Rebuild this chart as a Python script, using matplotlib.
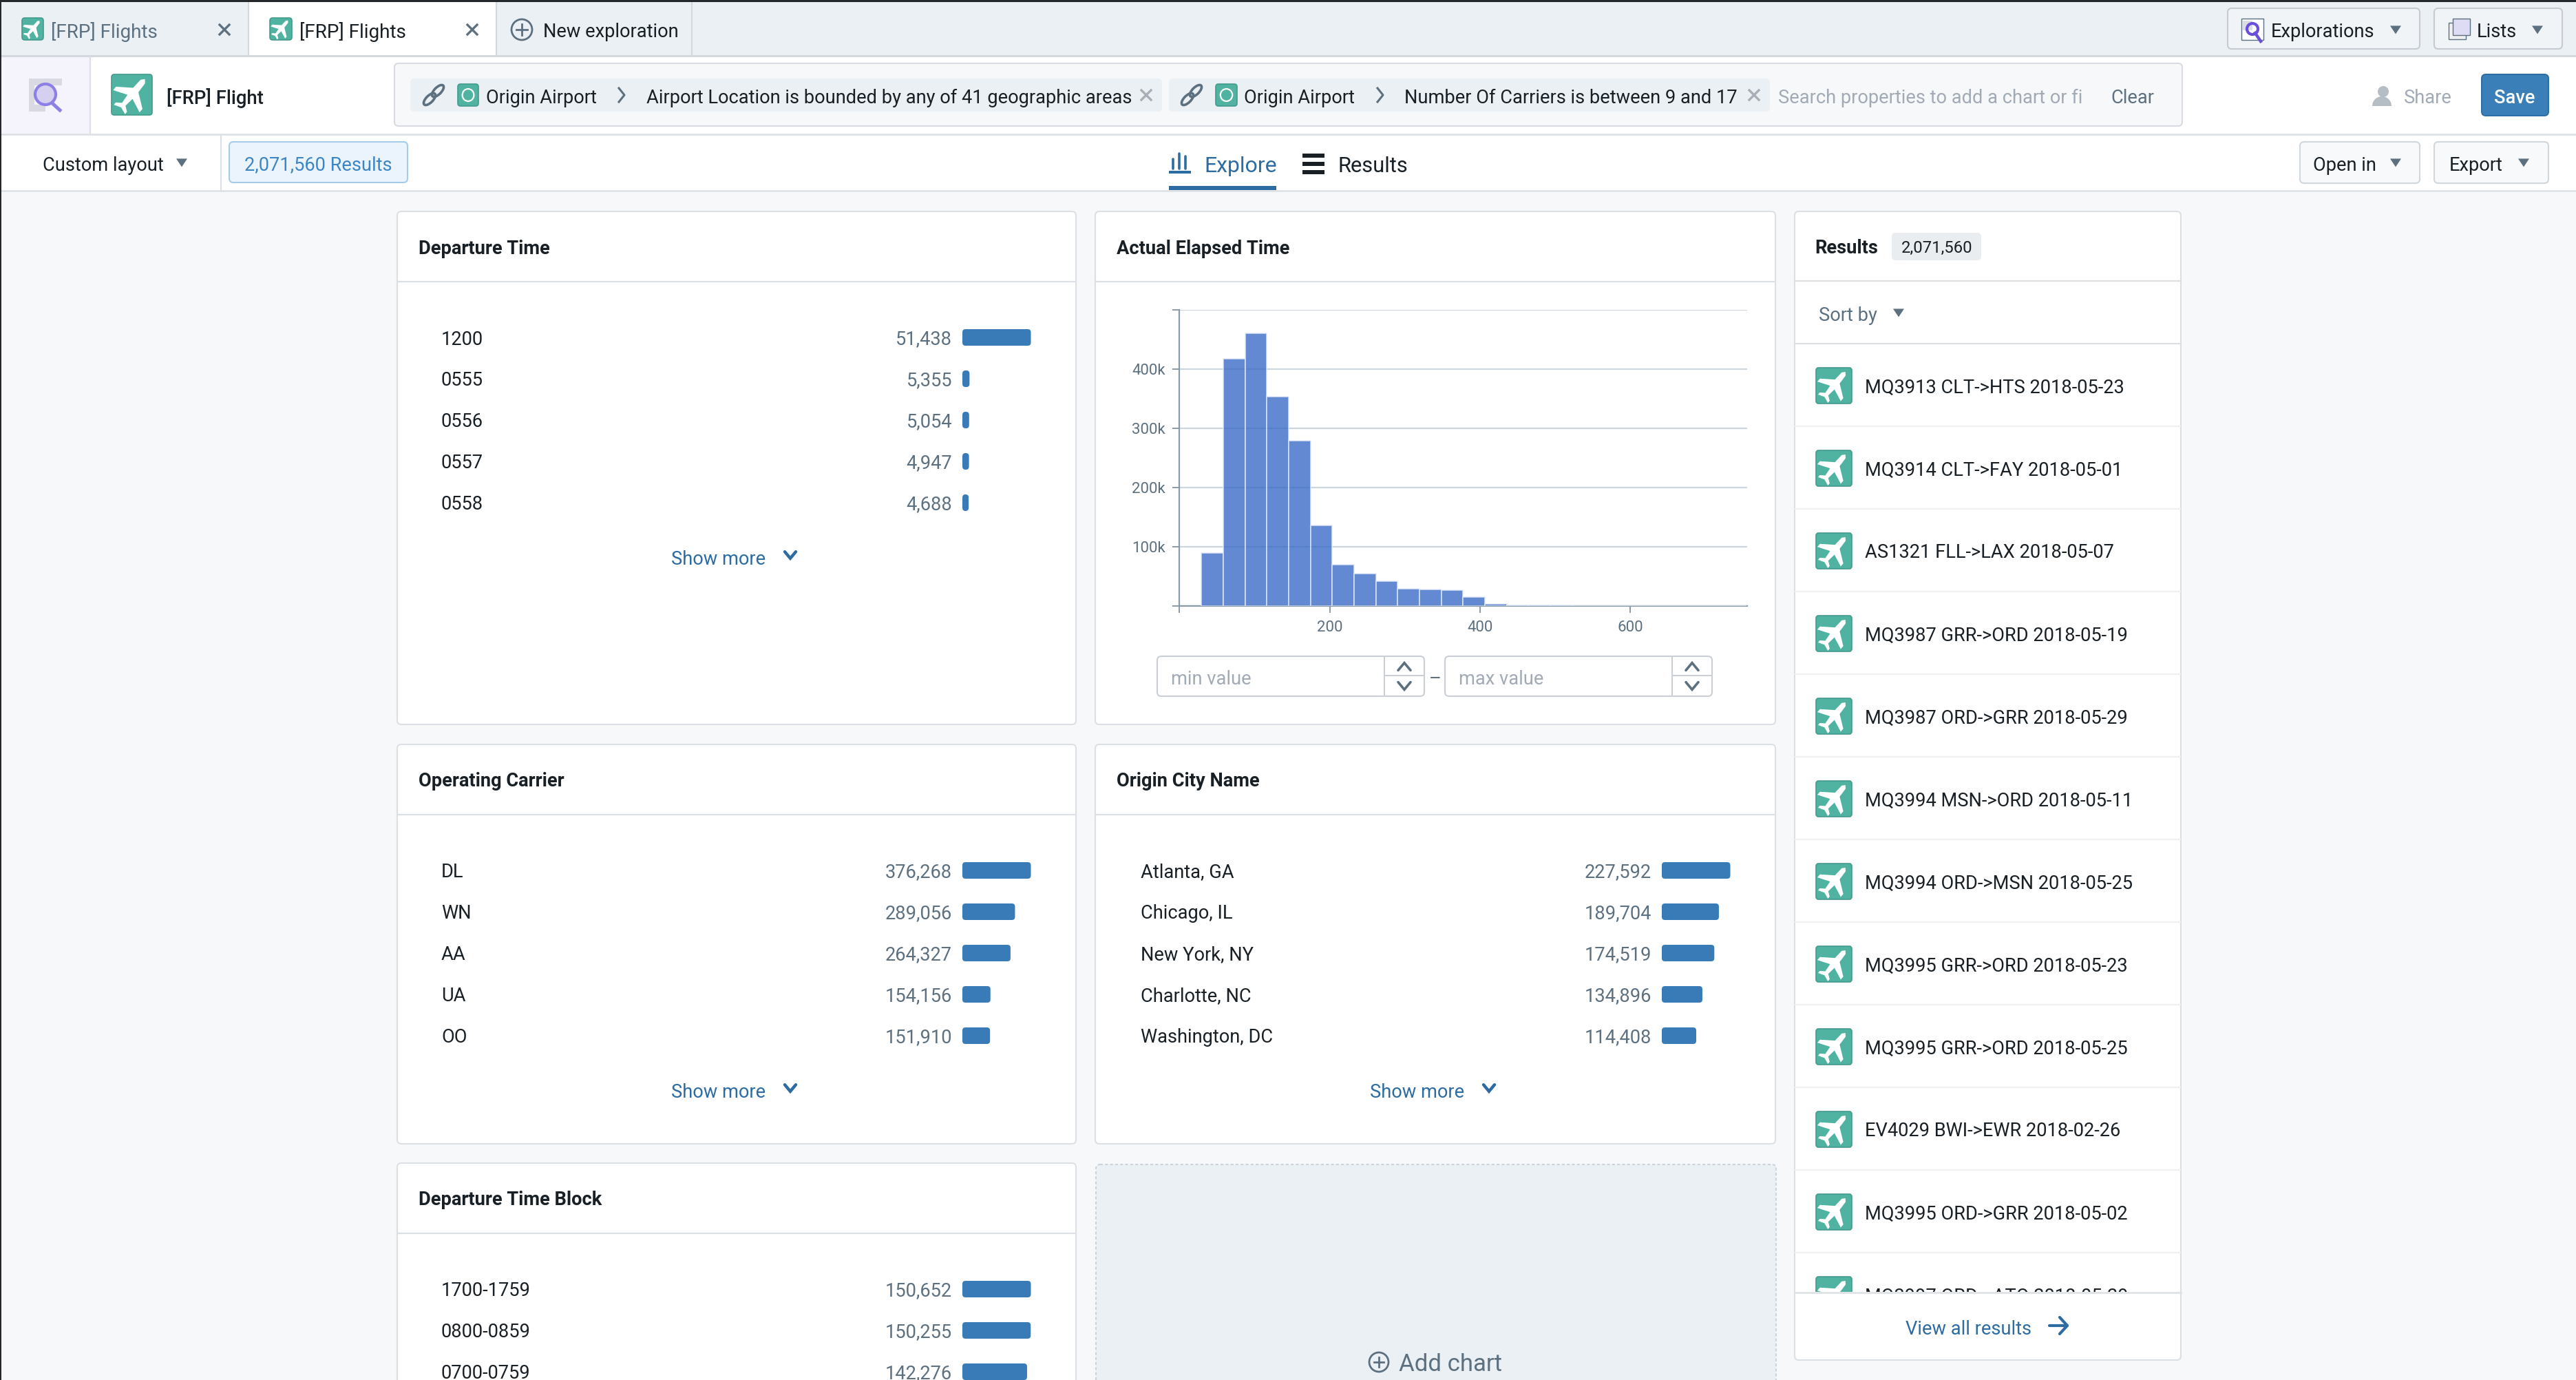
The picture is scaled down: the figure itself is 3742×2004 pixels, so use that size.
import numpy as np
import matplotlib
matplotlib.use("Agg")
import matplotlib.pyplot as plt
from matplotlib.patches import FancyBboxPatch, Rectangle, Circle, Polygon, Ellipse, Wedge
from matplotlib.ticker import FixedLocator, FixedFormatter

W, H = 3742, 2004

# panel data
departure_labels = ["1200", "0555", "0556", "0557", "0558"]
departure_values = [51438, 5355, 5054, 4947, 4688]
carrier_labels = ["DL", "WN", "AA", "UA", "OO"]
carrier_values = [376268, 289056, 264327, 154156, 151910]
city_labels = ["Atlanta, GA", "Chicago, IL", "New York, NY", "Charlotte, NC", "Washington, DC"]
city_values = [227592, 189704, 174519, 134896, 114408]
block_labels = ["1700-1759", "0800-0859", "0700-0759"]
block_values = [150652, 150255, 142276]

# histogram of elapsed time
hist_start = 29.4
hist_bin = 29.0
hist_counts = [89000, 418000, 460000, 353000, 279000, 136000, 70000, 54500, 42000,
               29000, 27500, 27000, 15000, 4000, 1200, 800, 600, 500, 400, 300,
               300, 200, 200, 200, 100]
hist_yticks = [0, 100000, 200000, 300000, 400000, 500000]
hist_ylabels = ["", "100k", "200k", "300k", "400k", ""]
hist_xticks = [0, 200, 400, 600]
hist_xlabels = ["", "200", "400", "600"]

results = ["MQ3913 CLT->HTS 2018-05-23", "MQ3914 CLT->FAY 2018-05-01",
           "AS1321 FLL->LAX 2018-05-07", "MQ3987 GRR->ORD 2018-05-19",
           "MQ3987 ORD->GRR 2018-05-29", "MQ3994 MSN->ORD 2018-05-11",
           "MQ3994 ORD->MSN 2018-05-25", "MQ3995 GRR->ORD 2018-05-23",
           "MQ3995 GRR->ORD 2018-05-25", "EV4029 BWI->EWR 2018-02-26",
           "MQ3995 ORD->GRR 2018-05-02", "MQ3997 ORD->ATO 2018-05-29"]

DARK = "#182026"
GREY = "#5C7080"
LIGHT = "#A2ABB5"
BLUE = "#2D6CA2"
BAR = "#397BB7"
TEAL = "#50B3A2"
LINE = "#DCE0E4"
BG = "#F6F8FA"
TABBG = "#EBF0F4"
FONT = "Roboto"
FS = 19.6

plt.rcParams["font.family"] = [FONT, "DejaVu Sans"]

fig = plt.figure(figsize=(W / 100, H / 100), dpi=100, facecolor=BG)
ui = fig.add_axes([0, 0, 1, 1])
ui.set_xlim(0, W)
ui.set_ylim(H, 0)
ui.axis("off")


def T(x, y, s, size=FS, color=DARK, ha="left", weight="normal"):
    return ui.text(x, y, s, fontsize=size, color=color, ha=ha, va="center_baseline",
                   weight=weight, family=[FONT, "DejaVu Sans"])


def rect(x0, y0, x1, y1, fc, ec="none", lw=0, zorder=1):
    r = Rectangle((x0, y0), x1 - x0, y1 - y0, fc=fc, ec=ec, lw=lw, zorder=zorder)
    ui.add_patch(r)
    return r


def box(x0, y0, x1, y1, fc="white", ec=LINE, lw=1.5, rad=6, zorder=1, ls="-"):
    b = FancyBboxPatch((x0, y0), x1 - x0, y1 - y0, boxstyle=f"round,pad=0,rounding_size={rad}",
                       fc=fc, ec=ec, lw=lw, zorder=zorder, ls=ls)
    ui.add_patch(b)
    return b


def caret(x, y, color=GREY, s=8):
    ui.add_patch(Polygon([(x - s, y - s * 0.7), (x + s, y - s * 0.7), (x, y + s * 0.8)], fc=color, ec="none", zorder=3))


def chev(x, y, s=8, color=BLUE, lw=3.2, up=False):
    d = -1 if up else 1
    ui.plot([x - s, x, x + s], [y - d * s * 0.6, y + d * s * 0.6, y - d * s * 0.6], color=color, lw=lw,
            solid_capstyle="round", solid_joinstyle="miter", zorder=3)


def xmark(x, y, s=7, color=GREY, lw=2.4):
    ui.plot([x - s, x + s], [y - s, y + s], color=color, lw=lw, zorder=3)
    ui.plot([x - s, x + s], [y + s, y - s], color=color, lw=lw, zorder=3)


def plane_icon(x0, y0, x1, y1, clip=None):
    b = box(x0, y0, x1, y1, fc=TEAL, ec="#429B8C", lw=1.2, rad=4, zorder=2)
    cx, cy = (x0 + x1) / 2, (y0 + y1) / 2
    s = min(x1 - x0, y1 - y0) * 0.5
    # plane pointing up, then turned 40 degrees
    shape = np.array([(0, -1), (0.14, -0.85), (0.17, -0.3), (0.85, 0.2), (0.85, 0.42), (0.16, 0.14),
                      (0.11, 0.62), (0.36, 0.8), (0.36, 0.95), (0, 0.82), (-0.36, 0.95), (-0.36, 0.8),
                      (-0.11, 0.62), (-0.16, 0.14), (-0.85, 0.42), (-0.85, 0.2), (-0.17, -0.3), (-0.14, -0.85)])
    a = np.radians(40)
    xs = cx + s * (shape[:, 0] * np.cos(a) - shape[:, 1] * np.sin(a))
    ys = cy + s * (shape[:, 0] * np.sin(a) + shape[:, 1] * np.cos(a))
    p = Polygon(np.column_stack([xs, ys]), fc="white", ec="none", zorder=3)
    ui.add_patch(p)
    if clip is not None:
        b.set_clip_path(clip)
        p.set_clip_path(clip)


def ring_icon(x0, y0, x1, y1):
    box(x0, y0, x1, y1, fc=TEAL, ec="#429B8C", lw=1.2, rad=4, zorder=3)
    ui.add_patch(Ellipse(((x0 + x1) / 2, (y0 + y1) / 2), (x1 - x0) * 0.56, (y1 - y0) * 0.56, fc="none", ec="white", lw=1.6, zorder=4))


def link_icon(x, y):
    for dx in (-6, 6):
        ui.add_patch(Ellipse((x + dx, y - dx), 22, 10, angle=-45, fc="none", ec=GREY, lw=2.6, zorder=3))


def bar_list(px, py, labels, values, label_x):
    # px, py: left of the panel and centre of the first row
    n = len(labels)
    bar_x = px + 821
    bar_w = 99.5
    ax = fig.add_axes([bar_x / W, 1 - (py + 30 + 60 * (n - 1)) / H, bar_w / W, 60 * n / H])
    ax.set_xlim(0, max(values))
    ax.set_ylim(n - 0.5, -0.5)
    ax.axis("off")
    xu = max(values) / bar_w
    for i, v in enumerate(values):
        ax.add_patch(FancyBboxPatch((0, i - 0.2), v, 0.4, boxstyle=f"round,pad=0,rounding_size={4.5 * xu}",
                                    fc=BAR, ec="none", mutation_aspect=1 / (60 * xu), clip_on=False))
        T(label_x, py + 60 * i, labels[i])
        T(px + 806, py + 60 * i, f"{v:,}", color=GREY, ha="right")


def panel(x0, y0, x1, y1, line_y, title):
    box(x0, y0, x1, y1)
    ui.plot([x0, x1], [line_y, line_y], color=LINE, lw=1.6, zorder=2)
    T(x0 + 31, (y0 + line_y) / 2, title, weight="bold", size=FS)


def show_more(x, y):
    T(x, y, "Show more", color=BLUE)
    chev(x + 173, y - 3)


# window chrome
rect(0, 0, W, 82, TABBG)
rect(0, 82, W, 277, "white")
rect(0, 0, W, 2.5, "#23282D", zorder=6)
rect(0, 0, 2, H, "#23282D", zorder=6)
ui.plot([0, W], [81, 81], color="#D3D8DC", lw=2.2, zorder=2)
ui.plot([0, W], [195, 195], color=LINE, lw=1.8, zorder=2)
ui.plot([0, W], [277, 277], color=LINE, lw=1.8, zorder=2)

# tabs
rect(361, 2, 721, 82, "white")
for tx in (361, 721, 1005):
    ui.plot([tx, tx], [2, 81], color="#D3D8DC", lw=1.5, zorder=2)
plane_icon(32, 26, 63, 58)
plane_icon(392, 26, 424, 58)
T(74, 43, "[FRP] Flights", color=GREY, size=20.1)
T(435, 43, "[FRP] Flights", size=20.1)
xmark(326, 43, color=GREY)
xmark(686, 43, color=GREY)
ui.add_patch(Circle((758, 43), 15, fc="none", ec=GREY, lw=2, zorder=3))
ui.plot([750, 766], [43, 43], color=GREY, lw=2)
ui.plot([758, 758], [35, 51], color=GREY, lw=2)
T(789, 43, "New exploration")

box(3236, 12, 3515, 71, fc="#F1F4F7", ec="#C5CBD1")
rect(3256, 27, 3288, 58, "white", ec=GREY, lw=1, zorder=3)
rect(3258, 30, 3272, 44, "#DADDE3", zorder=3)
ui.add_patch(Circle((3272, 42), 8, fc="none", ec="#6A50D8", lw=3, zorder=4))
ui.plot([3276, 3284], [48, 60], color="#6A50D8", lw=3.2, zorder=4)
T(3299, 43, "Explorations")
caret(3480, 43)
box(3536, 12, 3722, 71, fc="#F1F4F7", ec="#C5CBD1")
rect(3557, 33, 3582, 57, "#F0F0F0", ec=GREY, lw=1, zorder=3)
rect(3563, 27, 3588, 51, "#DEDCF5", ec=GREY, lw=1, zorder=4)
T(3598, 43, "Lists")
caret(3686, 43)

# second row
rect(0, 82, 131, 195, "#F5F3FC")
ui.plot([131, 131], [82, 195], color=LINE, lw=1.5)
for sx0, sy0, sx1, sy1 in [(42, 114, 90, 124), (42, 124, 50, 162), (50, 152, 66, 162)]:
    rect(sx0, sy0, sx1, sy1, "#D9D9E3", zorder=2)
ui.add_patch(Ellipse((66, 137), 30, 30, fc="#D5D0F0", ec="#8C80E6", lw=3, zorder=3))
ui.plot([76, 87], [150, 160], color="#8C80E6", lw=3.6, zorder=3)
plane_icon(162, 108, 221, 167)
T(242, 139, "[FRP] Flight", weight="medium", size=19.8)

box(573, 92, 3170, 183, fc=BG, ec="#D8DBDF")
box(596, 114, 1688, 162, fc=TABBG, ec="none", lw=0, zorder=2)
box(1698, 114, 2571, 162, fc=TABBG, ec="none", lw=0, zorder=2)
link_icon(630, 138)
ring_icon(665, 122, 695, 154)
T(706, 139, "Origin Airport")
ui.plot([899, 907, 899], [128, 138, 148], color=GREY, lw=2.2, zorder=3)
T(939, 139, "Airport Location is bounded by any of 41 geographic areas")
xmark(1665, 138, s=7, color="#A8AEB5")
link_icon(1731, 138)
ring_icon(1766, 122, 1797, 154)
T(1807, 139, "Origin Airport")
ui.plot([2001, 2009, 2001], [128, 138, 148], color=GREY, lw=2.2, zorder=3)
T(2040, 139, "Number Of Carriers is between 9 and 17")
xmark(2548, 138, s=7, color="#A8AEB5")
T(2583, 139, "Search properties to add a chart or fi", color=LIGHT)
T(3066, 139, "Clear", color=GREY)

ui.add_patch(Circle((3462, 133), 8, fc="#B5BDC5", ec="none"))
ui.add_patch(Wedge((3460, 154), 14, 180, 360, fc="#B5BDC5", ec="none"))
T(3492, 139, "Share", color=LIGHT)
box(3605, 108, 3702, 168, fc="#3B7FB8", ec="#2D6CA2", lw=1.4)
T(3653, 139, "Save", color="white", ha="center", weight="medium")

# third row
T(62, 237, "Custom layout")
caret(264, 236)
ui.plot([321, 321], [196, 277], color=LINE, lw=1.5)
box(333, 206, 592, 265, fc="#EBF4FC", ec="#A6CBE9")
T(355, 237, "2,071,560 Results", color="#3D86C6")

for bx, bh in ((1704, 14), (1713, 22), (1722, 18)):
    ui.plot([bx, bx], [245 - bh, 245], color=BLUE, lw=2.6, solid_capstyle="round", zorder=3)
rect(1698, 248, 1730, 252, BLUE, zorder=3)
T(1749, 238, "Explore", size=23, color=BLUE)
rect(1698, 270, 1854, 276, BLUE, zorder=3)
for hy in (226, 238, 250):
    rect(1892, hy - 3, 1924, hy + 3, DARK, zorder=3)
T(1944, 238, "Results", size=22.2)
box(3341, 206, 3515, 266, fc="#F7F9FA", ec="#D2D7DC")
T(3360, 237, "Open in")
caret(3480, 236)
box(3536, 206, 3702, 266, fc="#F7F9FA", ec="#D2D7DC")
T(3558, 237, "Export")
caret(3666, 236)

# chart panels
panel(577, 307, 1563, 1052, 409, "Departure Time")
bar_list(577, 490, departure_labels, departure_values, 641)
show_more(975, 809)

panel(1591, 307, 2579, 1052, 409, "Actual Elapsed Time")

panel(577, 1081, 1563, 1661, 1183, "Operating Carrier")
bar_list(577, 1264, carrier_labels, carrier_values, 641)
show_more(975, 1583)

panel(1591, 1081, 2579, 1661, 1183, "Origin City Name")
bar_list(1593, 1264, city_labels, city_values, 1657)
show_more(1990, 1583)

panel(577, 1689, 1563, 2040, 1791, "Departure Time Block")
bar_list(577, 1872, block_labels, block_values, 641)

box(1592, 1691, 2580, 2040, fc=TABBG, ec="#CBD3DB", ls=(0, (2, 1.5)))
ui.add_patch(Circle((2003, 1978), 14, fc="none", ec=GREY, lw=2, zorder=3))
ui.plot([1996, 2010], [1978, 1978], color=GREY, lw=2, zorder=3)
ui.plot([2003, 2003], [1971, 1985], color=GREY, lw=2, zorder=3)
T(2032, 1978, "Add chart", color=GREY, size=25)

# histogram
hx0, hx1, hy0, hy1 = 1713.4, 2537.7, 450, 880
hist = fig.add_axes([hx0 / W, 1 - hy1 / H, (hx1 - hx0) / W, (hy1 - hy0) / H], facecolor="none")
hist.bar([hist_start + hist_bin * i for i in range(len(hist_counts))], hist_counts, width=hist_bin,
         align="edge", color="#3F6FC7", alpha=0.82, edgecolor="#E6EDF8", linewidth=1.2, zorder=3)
hist.set_xlim(0, 755)
hist.set_ylim(0, 500000)
hist.xaxis.set_major_locator(FixedLocator(hist_xticks))
hist.xaxis.set_major_formatter(FixedFormatter(hist_xlabels))
hist.yaxis.set_major_locator(FixedLocator(hist_yticks))
hist.yaxis.set_major_formatter(FixedFormatter(hist_ylabels))
hist.grid(axis="y", color="#CDD6DE", lw=1.6, zorder=1)
hist.set_axisbelow(True)
for side in ("top", "right"):
    hist.spines[side].set_visible(False)
for side in ("left", "bottom"):
    hist.spines[side].set_color("#8A9BA8")
    hist.spines[side].set_linewidth(1.6)
hist.tick_params(colors="#8A9BA8", length=7, width=1.4, labelsize=16, labelcolor=GREY, pad=8)

# range inputs
for bx0, bx1, sx, label in ((1681, 2069, 2011, "min value"), (2099, 2487, 2429, "max value")):
    box(bx0, 953, bx1, 1011, fc="white", ec="#C9CFD5")
    ui.plot([sx, sx], [953, 1011], color="#C9CFD5", lw=1.4, zorder=2)
    ui.plot([sx, bx1], [981, 981], color="#C9CFD5", lw=1.4, zorder=2)
    chev((sx + bx1) / 2, 968, s=9, color=GREY, lw=2.6, up=True)
    chev((sx + bx1) / 2, 996, s=9, color=GREY, lw=2.6)
    T(bx0 + 20, 983, label, color=LIGHT)
T(2085, 983, "–", color=GREY, ha="center")

# results panel
box(2607, 307, 3168, 1975)
T(2636, 357, "Results", weight="bold", size=FS)
box(2748, 338, 2878, 378, fc="#EAEDF0", ec="none", lw=0, zorder=2)
T(2762, 358, "2,071,560", size=17.2)
ui.plot([2607, 3168], [408, 408], color=LINE, lw=1.6, zorder=2)
T(2642, 455, "Sort by", color=GREY)
caret(2758, 454)
ui.plot([2607, 3168], [499, 499], color=LINE, lw=1.6, zorder=2)

list_clip = Rectangle((2608, 499), 559, 1377, transform=ui.transData)
for i, name in enumerate(results):
    cy = 560 + 120 * i
    plane_icon(2638, cy - 26, 2690, cy + 26, clip=list_clip)
    t = T(2709, cy, name)
    t.set_clip_on(True)
    t.set_clip_path(list_clip)
    if i < len(results) - 1:
        ui.plot([2608, 3167], [cy + 59, cy + 59], color="#EFF1F3", lw=1.6, zorder=2)
ui.plot([2607, 3168], [1877, 1877], color=LINE, lw=1.8, zorder=5)
T(2768, 1927, "View all results", color=BLUE)
ui.plot([2977, 3003], [1925, 1925], color=BLUE, lw=3, solid_capstyle="round")
ui.plot([2992, 3003, 2992], [1913, 1925, 1937], color=BLUE, lw=3, solid_capstyle="round")

fig.savefig("out.png", dpi=100, facecolor=BG)
